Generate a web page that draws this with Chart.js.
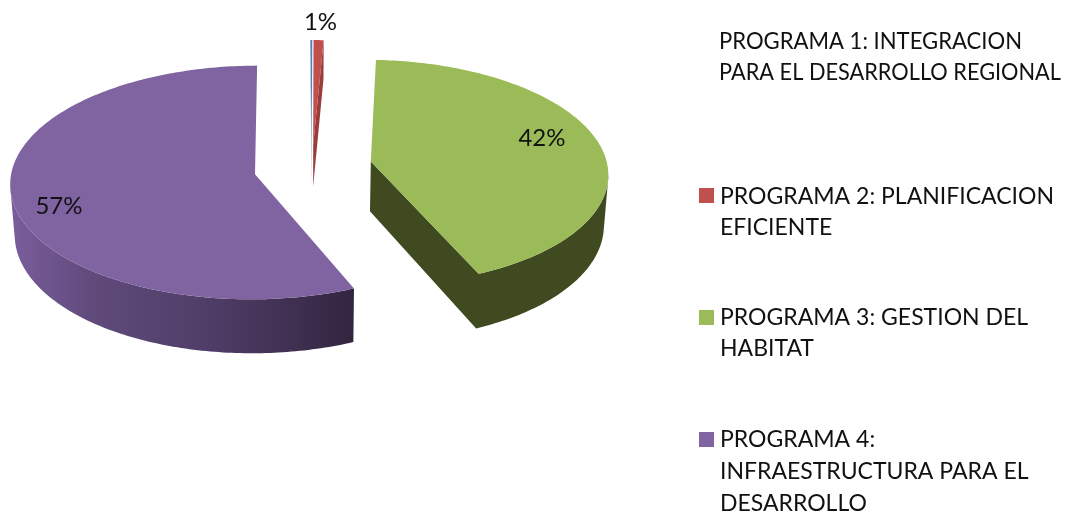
<!DOCTYPE html>
<html><head><meta charset="utf-8">
<style>html,body{margin:0;padding:0;background:#fff}canvas{display:block}</style>
<script src="https://cdn.jsdelivr.net/npm/chart.js@4/dist/chart.umd.min.js"></script>
</head><body><canvas id="c" width="1066" height="514"></canvas>
<script>
const categories = ["PROGRAMA 1: INTEGRACION PARA EL DESARROLLO REGIONAL","PROGRAMA 2: PLANIFICACION EFICIENTE","PROGRAMA 3: GESTION DEL HABITAT","PROGRAMA 4: INFRAESTRUCTURA PARA EL DESARROLLO"];
const values = [0.14, 0.72, 42, 57.14];
const topColors = ["#4F81BD","#C0504D","#9BBB59","#8064A2"];
const legendLines = [["PROGRAMA 1: INTEGRACION","PARA EL DESARROLLO REGIONAL"],["PROGRAMA 2: PLANIFICACION","EFICIENTE"],["PROGRAMA 3: GESTION DEL","HABITAT"],["PROGRAMA 4:","INFRAESTRUCTURA PARA EL","DESARROLLO"]];
const legendBaselines = [[49,80],[204,235],[325,356],[447,479,511]];
const legendMaxWidth = [[303,342],[999,999],[999,999],[999,999]];
const legendMarkerTop = [null,188,310,432];
const legendFont = '23px Lato, Carlito, sans-serif';
const labelFont = '24px Lato, Carlito, sans-serif';

// 3D look
const explode = [0.2,0.2,0.24,0.24];
const nudgeX = [-1,-1,1,-1];
const nudgeY = [0,0,-1,0];
const radiusScale = [1,1,0.975,1];
const persp = [0.069,0.069,0.10,0.069];
const depth = [42,42,50,50];
const labelFraction = [1,1.18,0.72,0.8];
const labelNudge = [[0,0],[1,0],[7,-9],[-2,13]];
const wallStops = [
  [[0,"#9db4d6"],[1,"#9db4d6"]],
  [[0,"#9a3c3a"],[1,"#9a3c3a"]],
  [[0,"#3f4a21"],[1,"#3f4a21"]],
  [[0,"#7a5d9c"],[0.25,"#5f4a7a"],[0.6,"#4f3c66"],[1,"#332540"]]
];
const squash = 0.475, shrink = 0.985, centerShiftY = -89, warp = 3*Math.PI/180;

const pie3d = {
  id:'pie3d',
  beforeDatasetDraw(chart,args){
    const ctx = chart.ctx, arcs = chart.getDatasetMeta(args.index).data;
    const mapper = (a,i) => {
      const mid = (a.startAngle+a.endAngle)/2, ex = Math.cos(mid)*explode[i], ey = Math.sin(mid)*explode[i];
      const R = a.outerRadius, Cx = a.x+nudgeX[i], Cy = a.y+centerShiftY+nudgeY[i], s = radiusScale[i], p = persp[i];
      return (f,th,z) => {
        const t = th+warp*(1+Math.sin(th))/2;
        const X = ex+s*f*Math.cos(t), Y = ey+s*f*Math.sin(t), w = 1-p*Y;
        let x = Cx+R*X/w, y = Cy+R*squash*Y/w;
        if(z){ x = Cx+(x-Cx)*shrink; y += depth[i]/w; }
        return [x,y];
      };
    };
    arcs.forEach((a,i)=>{
      const m = mapper(a,i), N = Math.max(4,Math.ceil((a.endAngle-a.startAngle)*60));
      const ang = [];
      for(let k=0;k<=N;k++) ang.push(a.startAngle+(a.endAngle-a.startAngle)*k/N);
      const top = [m(0,0,false)].concat(ang.map(t=>m(1,t,false)));
      const bot = [m(0,0,true)].concat(ang.map(t=>m(1,t,true)));
      const xs = bot.concat(top).map(p=>p[0]), x0=Math.min(...xs), x1=Math.max(...xs);
      const g = ctx.createLinearGradient(x0,0,x1,0);
      wallStops[i].forEach(s=>g.addColorStop(s[0],s[1]));
      ctx.save();
      ctx.fillStyle=g;
      ctx.beginPath();
      for(let k=0;k<top.length;k++){
        const n=(k+1)%top.length;
        const dx=top[n][0]-top[k][0], dy=top[n][1]-top[k][1];
        if(dx>=0) continue;                                        // faces away from the viewer
        if(n===0 && Math.abs(dx)/Math.hypot(dx,dy)<0.08) continue; // cut face seen edge-on
        const q=[top[k],top[n],bot[n],bot[k]];
        let area=0;
        q.forEach((u,j)=>{const v=q[(j+1)%4];area+=u[0]*v[1]-v[0]*u[1];});
        if(area<0) q.reverse();
        q.forEach((u,j)=>j?ctx.lineTo(...u):ctx.moveTo(...u));
        ctx.closePath();
      }
      ctx.fill('nonzero');
      ctx.fillStyle=topColors[i];
      ctx.beginPath();
      top.forEach((p,k)=>k?ctx.lineTo(...p):ctx.moveTo(...p));
      ctx.closePath();ctx.fill();
      ctx.restore();
    });
    // percentage labels
    const total = values.reduce((s,v)=>s+v,0);
    ctx.save();
    ctx.fillStyle='#111';ctx.font=labelFont;ctx.textAlign='center';ctx.textBaseline='middle';
    arcs.forEach((a,i)=>{
      const pct = Math.round(values[i]/total*100);
      if(!pct) return;
      const p = mapper(a,i)(labelFraction[i],(a.startAngle+a.endAngle)/2,false);
      ctx.fillText(pct+'%',p[0]+labelNudge[i][0],p[1]+labelNudge[i][1]);
    });
    ctx.restore();
    return false;
  },
  afterDraw(chart){
    const ctx = chart.ctx;
    ctx.save();
    ctx.font=legendFont;ctx.fillStyle='#111';ctx.textAlign='left';ctx.textBaseline='alphabetic';
    legendLines.forEach((lines,i)=>{
      if(legendMarkerTop[i]!==null){
        ctx.fillStyle=topColors[i];
        ctx.fillRect(699,legendMarkerTop[i],15,15);
        ctx.fillStyle='#111';
      }
      lines.forEach((t,j)=>ctx.fillText(t,i===0?719:720,legendBaselines[i][j],legendMaxWidth[i][j]));
    });
    ctx.restore();
  }
};

new Chart(document.getElementById('c'),{
  type:'pie',
  data:{labels:categories,datasets:[{data:values,backgroundColor:topColors,borderWidth:0}]},
  plugins:[pie3d],
  options:{
    responsive:false,animation:false,rotation:-0.4,
    layout:{padding:{left:0,right:440,top:14,bottom:14}},
    events:[],
    plugins:{legend:{display:false},tooltip:{enabled:false},title:{display:false}}
  }
});
</script></body></html>
